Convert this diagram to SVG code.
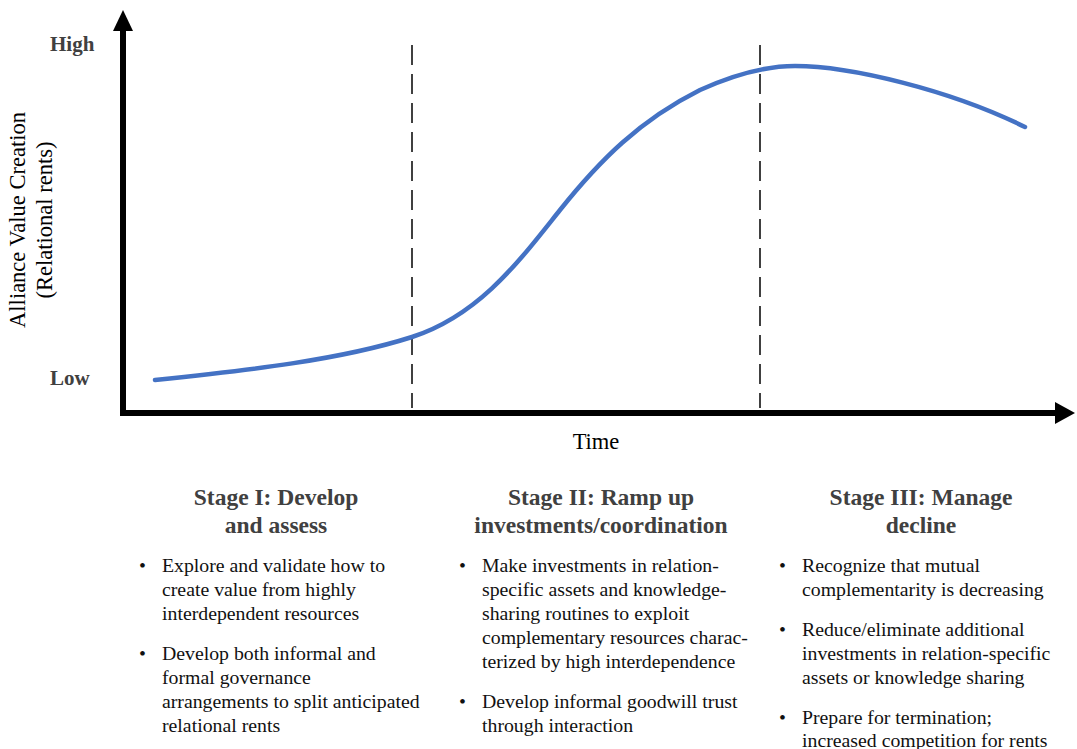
<svg xmlns="http://www.w3.org/2000/svg" width="1077" height="749" viewBox="0 0 1077 749">
  <style>
    .axis { stroke: #000; stroke-width: 6; fill: none; }
    .divider { stroke: #404040; stroke-width: 2; stroke-dasharray: 20 9; fill: none; }
    .curve { stroke: #4472C4; stroke-width: 4.5; fill: none; stroke-linecap: round; }
    .tick { font-family: "Liberation Serif", serif; font-weight: bold; font-size: 21px; fill: #404040; }
    .axislabel { font-family: "Liberation Serif", serif; font-size: 22.5px; fill: #000; }
    .head { font-family: "Liberation Serif", serif; font-weight: bold; font-size: 23.5px; fill: #404040; text-anchor: middle; }
    .body { font-family: "Liberation Serif", serif; font-size: 19.8px; fill: #111; }
  </style>
  <rect width="1077" height="749" fill="#fff"/>

  <!-- axes and stage dividers -->
  <g id="connectors">
    <path class="axis" d="M123,413 L123,30"/>
    <path d="M113,31 L123,10 L133,31 Z" fill="#000"/>
    <path class="axis" d="M120,413 L1056,413"/>
    <path d="M1055,402 L1075,413 L1055,424 Z" fill="#000"/>
    <path class="divider" d="M412,45 L412,408"/>
    <path class="divider" d="M760,45 L760,408"/>
  </g>

  <!-- value creation curve -->
  <g id="curve">
    <path class="curve" d="M155,380 C250,370 340,360 412,337 C480,315 520,260 560,210 C600,160 640,120 700,90 C740,72 770,66 795,66 C850,66 950,90 1025,127"/>
  </g>

  <!-- axis labels -->
  <g id="axis-labels">
    <text class="tick" x="50" y="51">High</text>
    <text class="tick" x="50" y="385">Low</text>
    <text class="axislabel" x="596" y="449" text-anchor="middle">Time</text>
    <text class="axislabel" text-anchor="middle" transform="translate(25,220) rotate(-90)">Alliance Value Creation</text>
    <text class="axislabel" text-anchor="middle" transform="translate(52,220) rotate(-90)">(Relational rents)</text>
  </g>

  <!-- stage I -->
  <g id="stage1">
    <text class="head" x="276" y="505">Stage I: Develop</text>
    <text class="head" x="276" y="533">and assess</text>
    <text class="body" x="139" y="572">•</text>
    <text class="body" x="162" y="572">Explore and validate how to</text>
    <text class="body" x="162" y="596">create value from highly</text>
    <text class="body" x="162" y="620">interdependent resources</text>
    <text class="body" x="139" y="660">•</text>
    <text class="body" x="162" y="660">Develop both informal and</text>
    <text class="body" x="162" y="684">formal governance</text>
    <text class="body" x="162" y="708">arrangements to split anticipated</text>
    <text class="body" x="162" y="732">relational rents</text>
  </g>

  <!-- stage II -->
  <g id="stage2">
    <text class="head" x="601" y="505">Stage II: Ramp up</text>
    <text class="head" x="601" y="533">investments/coordination</text>
    <text class="body" x="459" y="572">•</text>
    <text class="body" x="482" y="572">Make investments in relation-</text>
    <text class="body" x="482" y="596">specific assets and knowledge-</text>
    <text class="body" x="482" y="620">sharing routines to exploit</text>
    <text class="body" x="482" y="644">complementary resources charac-</text>
    <text class="body" x="482" y="668">terized by high interdependence</text>
    <text class="body" x="459" y="708">•</text>
    <text class="body" x="482" y="708">Develop informal goodwill trust</text>
    <text class="body" x="482" y="732">through interaction</text>
  </g>

  <!-- stage III -->
  <g id="stage3">
    <text class="head" x="921" y="505">Stage III: Manage</text>
    <text class="head" x="921" y="533">decline</text>
    <text class="body" x="779" y="572">•</text>
    <text class="body" x="802" y="572">Recognize that mutual</text>
    <text class="body" x="802" y="596">complementarity is decreasing</text>
    <text class="body" x="779" y="636">•</text>
    <text class="body" x="802" y="636">Reduce/eliminate additional</text>
    <text class="body" x="802" y="660">investments in relation-specific</text>
    <text class="body" x="802" y="684">assets or knowledge sharing</text>
    <text class="body" x="779" y="724">•</text>
    <text class="body" x="802" y="724">Prepare for termination;</text>
    <text class="body" x="802" y="747">increased competition for rents</text>
  </g>
</svg>
